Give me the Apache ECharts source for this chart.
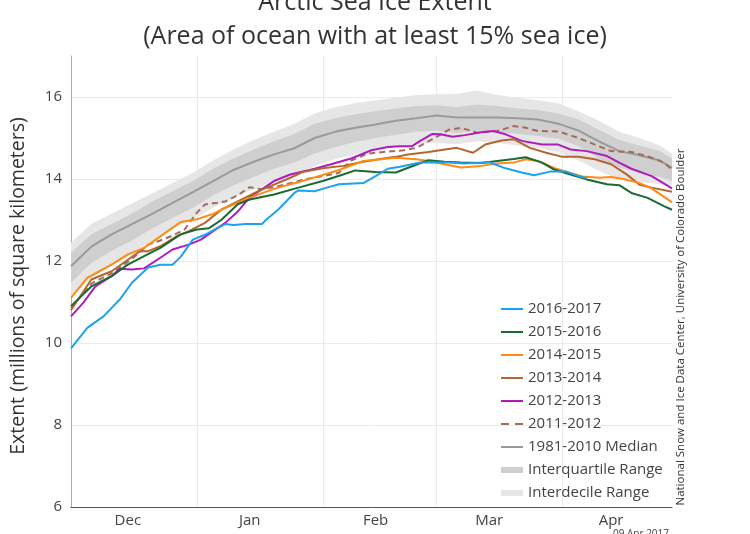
<!DOCTYPE html>
<html>
<head>
<meta charset="utf-8">
<script src="https://cdn.jsdelivr.net/npm/echarts@6/dist/echarts.min.js"></script>
<style>
  html, body { margin: 0; padding: 0; background: #fff; }
  #main { width: 750px; height: 534px; }
</style>
</head>
<body>
<div id="main"></div>
<script>
const chart = echarts.init(document.querySelector('#main'))

// x axis: day index counted from Dec 1
const LAST_DAY = 148
const MONTH_NAMES = ['Dec', 'Jan', 'Feb', 'Mar', 'Apr']
const MONTH_START_DAYS = [0, 31, 62, 90, 121]
const MONTH_LABEL_DAYS = [14, 44, 75, 103, 133]

// climatology, [day, value]
const BAND_DAYS = [0, 5, 10, 15, 20, 25, 30, 35, 40, 45, 50, 55, 60, 65, 70, 75, 80, 85, 90, 95, 100, 105, 110, 115, 120, 125, 130, 135, 140, 145, 148]
const MEDIAN = [11.87, 12.35, 12.65, 12.9, 13.15, 13.42, 13.68, 13.95, 14.22, 14.42, 14.6, 14.75, 15.0, 15.15, 15.25, 15.33, 15.42, 15.48, 15.55, 15.5, 15.5, 15.5, 15.48, 15.45, 15.35, 15.18, 14.92, 14.68, 14.58, 14.45, 14.27]
const IQR_LOW = [11.47, 11.95, 12.25, 12.5, 12.8, 13.05, 13.3, 13.6, 13.85, 14.05, 14.25, 14.4, 14.62, 14.78, 14.9, 15.0, 15.08, 15.15, 15.18, 15.12, 15.18, 15.15, 15.1, 15.05, 14.98, 14.8, 14.5, 14.28, 14.15, 14.05, 13.95]
const IQR_HIGH = [12.2, 12.65, 12.9, 13.15, 13.45, 13.7, 13.95, 14.25, 14.5, 14.72, 14.92, 15.1, 15.35, 15.48, 15.58, 15.65, 15.72, 15.78, 15.8, 15.75, 15.82, 15.78, 15.72, 15.68, 15.6, 15.45, 15.2, 14.95, 14.82, 14.68, 14.5]
const IDR_LOW = [11.13, 11.6, 11.9, 12.15, 12.5, 12.78, 13.02, 13.3, 13.55, 13.75, 13.95, 14.1, 14.32, 14.48, 14.6, 14.7, 14.78, 14.85, 14.88, 14.85, 14.92, 14.88, 14.82, 14.75, 14.65, 14.45, 14.2, 13.98, 13.92, 13.88, 13.85]
const IDR_HIGH = [12.45, 12.9, 13.15, 13.4, 13.65, 13.9, 14.15, 14.45, 14.72, 14.95, 15.15, 15.35, 15.6, 15.75, 15.85, 15.92, 15.98, 16.05, 16.07, 16.08, 16.15, 16.05, 15.98, 15.92, 15.85, 15.65, 15.42, 15.15, 15.0, 14.82, 14.62]

// yearly extent, [day, millions of km2]
const Y2016_2017 = [[0, 9.87], [4, 10.37], [8, 10.65], [12, 11.06], [15, 11.47], [19, 11.84], [22, 11.91], [25, 11.91], [27, 12.1], [30, 12.52], [33, 12.64], [36, 12.8], [38, 12.9], [40, 12.88], [43, 12.9], [47, 12.9], [48, 13.0], [51, 13.25], [55, 13.66], [56, 13.72], [60, 13.7], [63, 13.79], [66, 13.87], [72, 13.9], [75, 14.07], [78, 14.25], [81, 14.3], [86, 14.4], [93, 14.4], [97, 14.38], [103, 14.41], [107, 14.26], [111, 14.16], [114, 14.09], [118, 14.18], [122, 14.18], [125, 14.07], [127, 14.02]]
const Y2015_2016 = [[0, 10.9], [5, 11.38], [10, 11.63], [14, 11.91], [18, 12.12], [22, 12.32], [27, 12.65], [31, 12.77], [34, 12.8], [37, 13.0], [41, 13.38], [44, 13.5], [50, 13.62], [56, 13.79], [62, 13.95], [67, 14.11], [70, 14.21], [75, 14.17], [80, 14.16], [84, 14.31], [88, 14.46], [92, 14.42], [96, 14.4], [101, 14.39], [105, 14.44], [109, 14.49], [112, 14.53], [116, 14.4], [119, 14.23], [123, 14.11], [127, 13.99], [132, 13.87], [135, 13.85], [138, 13.66], [142, 13.54], [146, 13.34], [148, 13.25]]
const Y2014_2015 = [[0, 11.1], [4, 11.59], [7, 11.75], [10, 11.91], [14, 12.16], [18, 12.32], [22, 12.6], [27, 12.95], [31, 13.02], [35, 13.15], [38, 13.3], [46, 13.62], [51, 13.79], [56, 13.92], [61, 14.07], [66, 14.22], [72, 14.44], [75, 14.47], [80, 14.52], [85, 14.48], [88, 14.44], [92, 14.36], [96, 14.28], [101, 14.32], [105, 14.38], [109, 14.4], [112, 14.48], [115, 14.44], [119, 14.27], [122, 14.17], [126, 14.06], [130, 14.03], [133, 14.05], [136, 14.0], [140, 13.9], [143, 13.77], [148, 13.43]]
const Y2013_2014 = [[0, 10.8], [5, 11.55], [8, 11.67], [10, 11.75], [14, 12.03], [17, 12.24], [19, 12.24], [22, 12.36], [26, 12.6], [29, 12.73], [33, 12.93], [37, 13.25], [46, 13.7], [54, 14.03], [57, 14.17], [62, 14.26], [67, 14.32], [72, 14.42], [77, 14.5], [80, 14.54], [83, 14.6], [88, 14.66], [95, 14.76], [99, 14.64], [102, 14.84], [106, 14.94], [109, 14.97], [113, 14.76], [117, 14.64], [121, 14.54], [125, 14.54], [129, 14.48], [133, 14.36], [137, 14.1], [140, 13.86], [143, 13.79], [148, 13.69]]
const Y2012_2013 = [[0, 10.65], [3, 10.98], [6, 11.38], [10, 11.63], [12, 11.81], [15, 11.79], [18, 11.82], [22, 12.08], [25, 12.28], [29, 12.4], [32, 12.52], [35, 12.73], [38, 12.93], [41, 13.2], [44, 13.55], [50, 13.95], [54, 14.11], [60, 14.25], [64, 14.36], [69, 14.5], [74, 14.7], [78, 14.78], [81, 14.8], [84, 14.8], [86, 14.93], [89, 15.1], [91, 15.09], [94, 15.03], [97, 15.07], [101, 15.14], [104, 15.17], [107, 15.09], [111, 14.93], [116, 14.84], [120, 14.84], [123, 14.72], [127, 14.68], [132, 14.56], [135, 14.4], [138, 14.25], [143, 14.07], [148, 13.77]]
const Y2011_2012 = [[0, 10.85], [5, 11.45], [10, 11.7], [15, 12.05], [19, 12.4], [22, 12.5], [25, 12.62], [28, 12.77], [31, 13.18], [33, 13.38], [36, 13.42], [38, 13.45], [41, 13.6], [44, 13.8], [47, 13.75], [50, 13.8], [54, 13.9], [58, 14.0], [62, 14.07], [66, 14.15], [69, 14.45], [73, 14.62], [77, 14.66], [82, 14.7], [85, 14.76], [89, 14.97], [93, 15.2], [96, 15.25], [100, 15.13], [105, 15.17], [109, 15.29], [112, 15.25], [115, 15.17], [120, 15.16], [125, 15.0], [129, 14.84], [133, 14.68], [138, 14.66], [143, 14.52], [146, 14.4], [148, 14.23]]

const FONT = '"Open Sans", "Noto Sans", sans-serif'
const TEXT_COLOR = '#444'

const days = []
for (let d = 0; d <= LAST_DAY; d++) days.push(String(d))

function pairs (xs, ys) {
  return xs.map((x, i) => [x, ys[i]])
}

function bandSeries (stack, low, high, name, color, z) {
  return [
    {
      name: stack + '-base',
      type: 'line',
      stack: stack,
      data: pairs(BAND_DAYS, low),
      symbol: 'none',
      lineStyle: { opacity: 0 },
      silent: true,
      z: z
    },
    {
      name: name,
      type: 'line',
      stack: stack,
      data: BAND_DAYS.map((d, i) => [d, +(high[i] - low[i]).toFixed(3)]),
      symbol: 'none',
      itemStyle: { color: color },
      lineStyle: { opacity: 0 },
      areaStyle: { color: color, opacity: 1 },
      silent: true,
      z: z
    }
  ]
}

const years = [
  { name: '2011-2012', data: Y2011_2012, color: '#a5695d', dashed: true },
  { name: '2012-2013', data: Y2012_2013, color: '#b01cbc' },
  { name: '2013-2014', data: Y2013_2014, color: '#b5652f' },
  { name: '2014-2015', data: Y2014_2015, color: '#ff8a14' },
  { name: '2015-2016', data: Y2015_2016, color: '#176b33' },
  { name: '2016-2017', data: Y2016_2017, color: '#1da2f0' }
]

const LINE_ICON = 'path://M0,0H22V2H0Z'
const DASH_ICON = 'path://M0,0H8V2H0ZM14,0H22V2H14Z'
const BAND_ICON = 'path://M0,0H22V6H0Z'

const legendData = [
  '2016-2017', '2015-2016', '2014-2015', '2013-2014', '2012-2013', '2011-2012'
].map(n => {
  const y = years.find(v => v.name === n)
  return { name: n, icon: y.dashed ? DASH_ICON : LINE_ICON, itemStyle: { color: y.color } }
}).concat([
  { name: '1981-2010 Median', icon: LINE_ICON, itemStyle: { color: '#9a9a9a' } },
  { name: 'Interquartile Range', icon: BAND_ICON, itemStyle: { color: '#cfcfcf' } },
  { name: 'Interdecile Range', icon: BAND_ICON, itemStyle: { color: '#e6e6e6' } }
])

const option = {
  animation: false,
  textStyle: { fontFamily: FONT },
  grid: { left: 71, right: 78, top: 56, bottom: 27 },
  legend: {
    orient: 'vertical',
    left: 501,
    top: 301,
    padding: 0,
    itemWidth: 22,
    itemHeight: 14,
    itemGap: 7,
    itemStyle: { borderWidth: 0 },
    textStyle: { fontSize: 15, color: TEXT_COLOR, fontFamily: FONT, lineHeight: 16 },
    selectedMode: false,
    data: legendData
  },
  xAxis: {
    type: 'category',
    data: days,
    boundaryGap: false,
    axisLine: { lineStyle: { color: '#555', width: 1 } },
    axisTick: { show: false },
    axisLabel: {
      interval: (i) => MONTH_LABEL_DAYS.includes(i),
      formatter: (v) => MONTH_NAMES[MONTH_LABEL_DAYS.indexOf(Number(v))] || '',
      fontSize: 15,
      color: TEXT_COLOR,
      margin: 6
    },
    splitLine: {
      show: true,
      interval: (i) => i > 0 && MONTH_START_DAYS.includes(i),
      lineStyle: { color: '#ebebeb', width: 1 }
    }
  },
  yAxis: {
    type: 'value',
    min: 6,
    max: 17,
    interval: 2,
    axisLine: { show: true, lineStyle: { color: '#aaa', width: 1 } },
    axisTick: { show: false },
    axisLabel: { fontSize: 15, color: TEXT_COLOR, margin: 9, showMaxLabel: false },
    splitLine: { lineStyle: { color: '#ebebeb' }, showMinLine: false, showMaxLine: false }
  },
  graphic: [
    {
      type: 'text', left: 'center', top: -10,
      style: { text: 'Arctic Sea Ice Extent', fontSize: 25, fill: '#333', fontFamily: FONT }
    },
    {
      type: 'text', left: 'center', top: 24,
      style: { text: '(Area of ocean with at least 15% sea ice)', fontSize: 25, fill: '#333', fontFamily: FONT }
    },
    {
      type: 'text', x: 18, y: 286, rotation: Math.PI / 2,
      style: { text: 'Extent (millions of square kilometers)', fontSize: 19.5, fill: '#333', fontFamily: FONT, align: 'center', verticalAlign: 'middle' }
    },
    {
      type: 'text', x: 681, y: 327, rotation: Math.PI / 2,
      style: { text: 'National Snow and Ice Data Center, University of Colorado Boulder', fontSize: 11.5, fill: '#333', fontFamily: FONT, align: 'center', verticalAlign: 'middle' }
    },
    {
      type: 'text', x: 669, y: 529,
      style: { text: '09 Apr 2017', fontSize: 10, fill: '#444', fontFamily: FONT, align: 'right', verticalAlign: 'top' }
    }
  ],
  series: [].concat(
    bandSeries('idr', IDR_LOW, IDR_HIGH, 'Interdecile Range', '#e6e6e6', 1),
    bandSeries('iqr', IQR_LOW, IQR_HIGH, 'Interquartile Range', '#cfcfcf', 2),
    [{
      name: '1981-2010 Median',
      type: 'line',
      data: pairs(BAND_DAYS, MEDIAN),
      symbol: 'none',
      itemStyle: { color: '#9a9a9a' },
      lineStyle: { color: '#9a9a9a', width: 2 },
      z: 3
    }],
    years.map(y => ({
      name: y.name,
      type: 'line',
      data: y.data,
      symbol: 'none',
      itemStyle: { color: y.color },
      lineStyle: { color: y.color, width: 2, type: y.dashed ? [6, 4] : 'solid' },
      z: 4
    }))
  )
}

chart.setOption(option)
</script>
</body>
</html>
